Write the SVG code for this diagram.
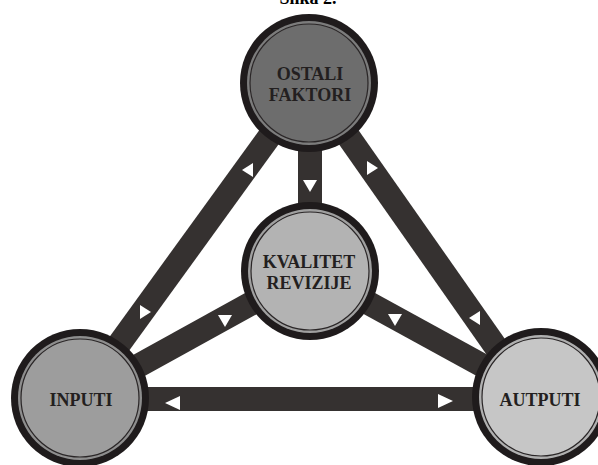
<svg xmlns="http://www.w3.org/2000/svg" width="598" height="465" viewBox="0 0 598 465">
<style>
.bar{stroke:#353130;stroke-width:24;fill:none}
.tri{fill:#ffffff}
.outer{fill:#1f1b1c}
.line{fill:none;stroke:#2a2627;stroke-width:1.2}
.lbl{font-family:"Liberation Serif","Times New Roman",serif;font-weight:bold;font-size:18px;fill:#231f20;text-anchor:middle}
.title{font-family:"Liberation Serif","Times New Roman",serif;font-weight:bold;font-size:18px;fill:#000;text-anchor:middle}
</style>
<rect width="598" height="465" fill="#ffffff"/>
<text class="title" x="308" y="4">Slika 2.</text>
<g id="connectors">
<line class="bar" x1="309" y1="82" x2="80" y2="398"/>
<line class="bar" x1="310" y1="82" x2="531" y2="397"/>
<line class="bar" x1="310" y1="82" x2="310" y2="271"/>
<line class="bar" x1="310" y1="271" x2="80" y2="398"/>
<line class="bar" x1="310" y1="271" x2="540" y2="397"/>
<line class="bar" x1="80" y1="399" x2="540" y2="399"/>
<polygon class="tri" points="242,170 253,163 253,177"/>
<polygon class="tri" points="140,305 140,319 151,312"/>
<polygon class="tri" points="367,161 367,175 378,168"/>
<polygon class="tri" points="469,318 480,311 480,325"/>
<polygon class="tri" points="218,315 232,315 225,327"/>
<polygon class="tri" points="388,314 402,314 395,326"/>
<polygon class="tri" points="303,180 317,180 310,192"/>
<polygon class="tri" points="165,403 180,396 180,410"/>
<polygon class="tri" points="438,394 438,408 453,401"/>
</g>
<g id="ostali">
<circle class="outer" cx="309" cy="83" r="69"/>
<circle cx="309" cy="83" r="62" fill="#7c7c7c"/>
<circle cx="309" cy="83" r="59" fill="#6d6d6d"/>
<circle class="line" cx="309" cy="83" r="59"/>
<text class="lbl" x="310" y="80">OSTALI</text>
<text class="lbl" x="310" y="101">FAKTORI</text>
</g>
<g id="kvalitet">
<circle class="outer" cx="310" cy="271" r="69"/>
<circle cx="310" cy="271" r="62" fill="#a0a0a0"/>
<circle cx="310" cy="271" r="59" fill="#b3b3b3"/>
<circle class="line" cx="310" cy="271" r="59"/>
<text class="lbl" x="309" y="268">KVALITET</text>
<text class="lbl" x="309" y="289">REVIZIJE</text>
</g>
<g id="inputi">
<circle class="outer" cx="80" cy="398" r="69"/>
<circle cx="80" cy="398" r="62" fill="#8e8e8e"/>
<circle cx="80" cy="398" r="59" fill="#9d9d9d"/>
<circle class="line" cx="80" cy="398" r="59"/>
<text class="lbl" x="81" y="406">INPUTI</text>
</g>
<g id="autputi">
<circle class="outer" cx="541" cy="397" r="69"/>
<circle cx="541" cy="397" r="62" fill="#b0b0b0"/>
<circle cx="541" cy="397" r="59" fill="#c6c6c6"/>
<circle class="line" cx="541" cy="397" r="59"/>
<text class="lbl" x="540" y="406">AUTPUTI</text>
</g>
</svg>
